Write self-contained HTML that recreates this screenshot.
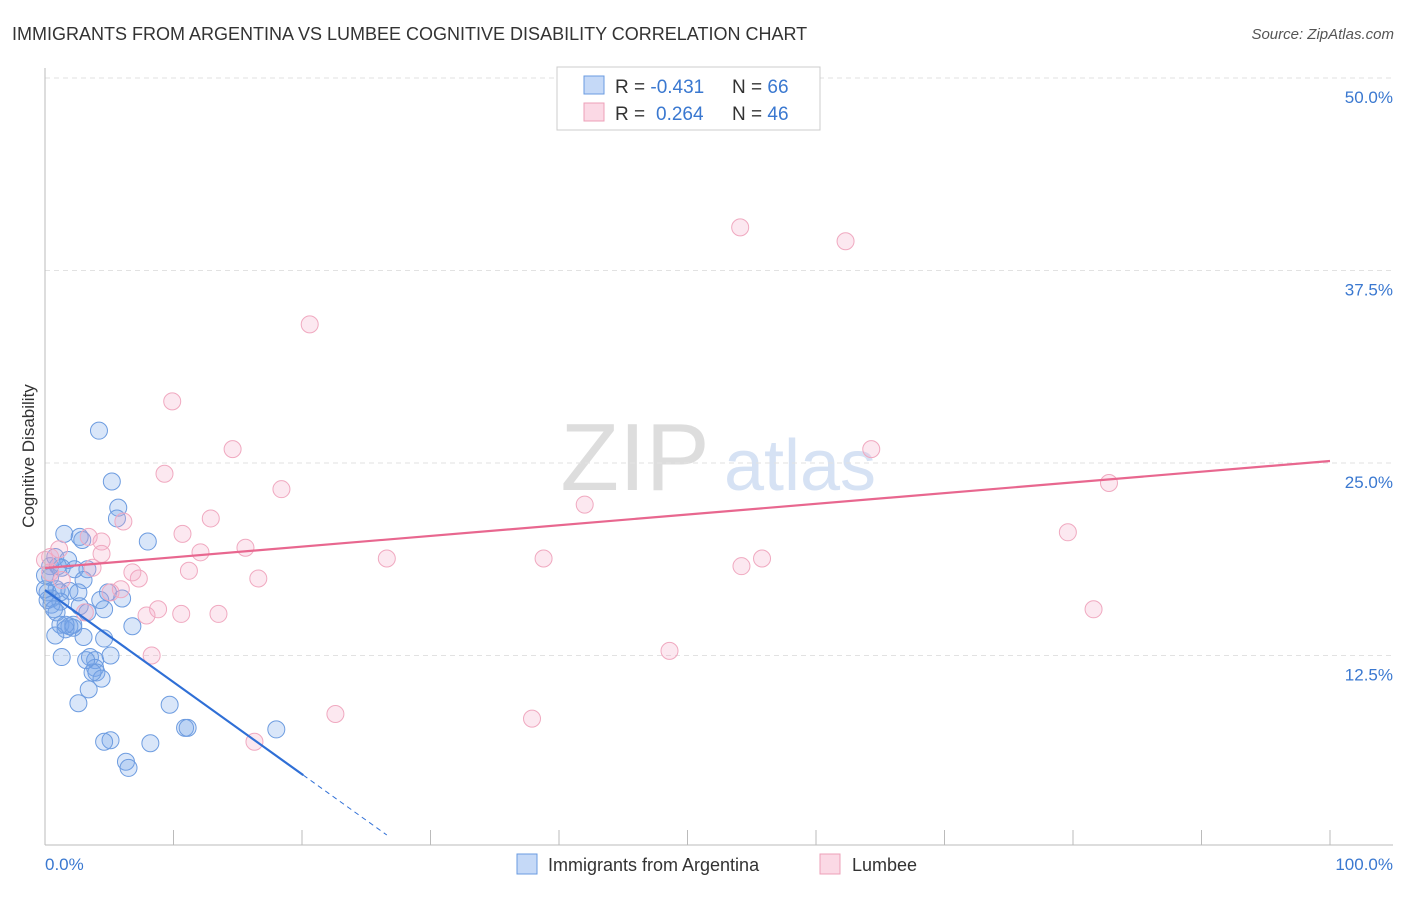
<!DOCTYPE html>
<html><head><meta charset="utf-8"><style>
body{margin:0;background:#fff;font-family:"Liberation Sans",sans-serif;}
svg text{font-family:"Liberation Sans",sans-serif;}
</style></head><body>
<svg id="c" width="1406" height="892">
<text x="12" y="40" font-size="18" fill="#333">IMMIGRANTS FROM ARGENTINA VS LUMBEE COGNITIVE DISABILITY CORRELATION CHART</text>
<text x="1394" y="39" font-size="15" fill="#555" font-style="italic" text-anchor="end">Source: ZipAtlas.com</text>
<g><text x="635" y="490" font-size="96" fill="#ddd" text-anchor="middle" font-family="Liberation Serif">ZIP</text><text x="800" y="490" font-size="72" fill="#d6e2f4" text-anchor="middle">atlas</text></g>
<g id="grid"></g><g id="marks"></g>
<line x1="45" y1="68" x2="45" y2="845" stroke="#bbb"/>
<line x1="45" y1="845" x2="1393" y2="845" stroke="#bbb"/>
<text transform="translate(34,456) rotate(-90)" font-size="17" fill="#333" text-anchor="middle">Cognitive Disability</text>
<text x="45" y="870" font-size="17" fill="#3a78d0">0.0%</text>
<text x="1393" y="870" font-size="17" fill="#3a78d0" text-anchor="end">100.0%</text>
<g>
<rect x="557" y="67" width="263" height="63" fill="#fff" stroke="#ccc"/>
<rect x="584" y="76" width="20" height="18" fill="rgba(110,160,235,0.4)" stroke="#6a9be0"/>
<rect x="584" y="103" width="20" height="18" fill="rgba(245,160,190,0.4)" stroke="#eea0b8"/>
<text x="615" y="93" font-size="19" fill="#333">R = <tspan fill="#3a78d0">-0.431</tspan><tspan x="732">N = </tspan><tspan fill="#3a78d0">66</tspan></text>
<text x="615" y="120" font-size="19" fill="#333">R = <tspan fill="#3a78d0" x="656">0.264</tspan><tspan x="732">N = </tspan><tspan fill="#3a78d0">46</tspan></text>
</g>
<g>
<rect x="517" y="854" width="20" height="20" fill="rgba(110,160,235,0.4)" stroke="#6a9be0"/>
<text x="548" y="871" font-size="18" fill="#333">Immigrants from Argentina</text>
<rect x="820" y="854" width="20" height="20" fill="rgba(245,160,190,0.4)" stroke="#eea0b8"/>
<text x="852" y="871" font-size="18" fill="#333">Lumbee</text>
</g>
</svg>
<script>
const yTicks=[12.5,25,37.5,50];
const yTickLabels=["12.5%","25.0%","37.5%","50.0%"];
const xTicks=[0,10,20,30,40,50,60,70,80,90,100];
const blueX=[4.2,5.2,5.7,5.6,8.0,1.5,2.7,2.9,0.8,1.8,0.4,1.3,2.3,3.3,3.0,0.4,0.9,1.2,0.2,0.5,1.9,2.6,4.9,6.0,1.2,0.5,2.7,3.3,4.6,0.9,1.2,1.9,1.6,2.2,6.8,0.8,3.0,4.6,5.1,1.3,3.5,3.9,3.9,4.0,4.4,3.4,2.6,9.7,10.9,11.1,18.0,5.1,4.6,8.2,6.3,6.5,0.0,0.2,1.0,2.2,1.6,3.7,3.2,4.3,0.0,0.7];
const blueY=[27.1,23.8,22.1,21.4,19.9,20.4,20.2,20.0,18.9,18.7,18.3,18.2,18.1,18.1,17.4,17.6,16.8,16.6,16.6,16.2,16.7,16.6,16.6,16.2,16.0,15.8,15.7,15.3,15.5,15.3,14.5,14.4,14.2,14.3,14.4,13.8,13.7,13.6,12.5,12.4,12.4,12.2,11.7,11.4,11.0,10.3,9.4,9.3,7.8,7.8,7.7,7.0,6.9,6.8,5.6,5.2,16.8,16.1,18.3,14.5,14.5,11.4,12.2,16.1,17.7,15.5];
const pinkX=[54.1,62.3,20.6,9.9,14.6,64.3,9.3,18.4,82.8,42.0,6.1,12.9,79.6,10.7,3.4,4.4,1.1,15.6,12.1,4.4,26.6,38.8,55.8,54.2,3.7,11.2,16.6,7.3,6.8,0.4,5.1,5.9,8.8,7.9,10.6,13.5,81.6,8.3,48.6,22.6,37.9,16.3,0.0,0.4,3.1,1.3];
const pinkY=[40.3,39.4,34.0,29.0,25.9,25.9,24.3,23.3,23.7,22.3,21.2,21.4,20.5,20.4,20.2,19.9,19.4,19.5,19.2,19.1,18.8,18.8,18.8,18.3,18.2,18.0,17.5,17.5,17.9,17.9,16.6,16.8,15.5,15.1,15.2,15.2,15.5,12.5,12.8,8.7,8.4,6.9,18.7,18.9,15.3,17.4];
const blueTrend=[16.75,-0.598];
const pinkTrend=[18.18,0.0695];
const NS="http://www.w3.org/2000/svg";
const sx=v=>45+v*12.85, sy=v=>848-v*15.4;
function mk(t,a,p){const e=document.createElementNS(NS,t);for(const k in a)e.setAttribute(k,a[k]);p.appendChild(e);return e;}
const grid=document.getElementById('grid'),marks=document.getElementById('marks'),svg=document.getElementById('c');
yTicks.forEach((t,i)=>{
 const l=mk('line',{x1:45,x2:1393,y1:sy(t),y2:sy(t),stroke:'#e2e2e2','stroke-dasharray':'5,4'},grid);
 
 
 const tx=mk('text',{x:1393,y:sy(t)+25,'font-size':17,fill:'#3a78d0','text-anchor':'end'},grid);
 tx.textContent=yTickLabels[i];
 
 
});
xTicks.forEach(t=>{
 const l=mk('line',{x1:sx(t),x2:sx(t),y1:830,y2:845,stroke:'#bbb'},grid);
 
 
});
blueX.forEach((x,i)=>{
 const c=mk('circle',{cx:sx(x),cy:sy(blueY[i]),r:8.5,fill:'rgba(120,165,235,0.28)',stroke:'#6d9ce0','stroke-width':1},marks);
 
 
});
pinkX.forEach((x,i)=>{
 const c=mk('circle',{cx:sx(x),cy:sy(pinkY[i]),r:8.5,fill:'rgba(245,165,195,0.25)',stroke:'#f0a9c0','stroke-width':1},marks);
 
 
});
const bl=mk('line',{x1:sx(0),y1:sy(blueTrend[0]),x2:sx(20.1),y2:sy(blueTrend[0]+blueTrend[1]*20.1),stroke:'#2f6fd6','stroke-width':2.2},svg);


const bd=mk('line',{x1:sx(20.1),y1:sy(blueTrend[0]+blueTrend[1]*20.1),x2:sx(26.6),y2:sy(blueTrend[0]+blueTrend[1]*26.6),stroke:'#2f6fd6','stroke-width':1,'stroke-dasharray':'5,4'},svg);


const pl=mk('line',{x1:sx(0),y1:sy(pinkTrend[0]),x2:sx(100),y2:sy(pinkTrend[0]+pinkTrend[1]*100),stroke:'#e8678f','stroke-width':2.2},svg);


</script>
</body></html>
